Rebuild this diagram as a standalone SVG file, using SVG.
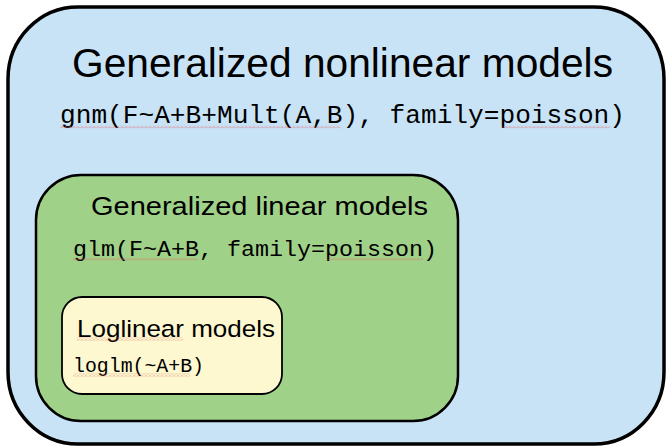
<svg xmlns="http://www.w3.org/2000/svg" width="668" height="448" viewBox="0 0 668 448">
<style>
.box{stroke:#000}
.h{font-family:"Liberation Sans",Arial,sans-serif;fill:#000}
.c{font-family:"Liberation Mono","DejaVu Sans Mono",monospace;fill:#000}
.sq{fill:url(#wave)}
</style>
<defs>
<pattern id="wave" x="0" y="0" width="4" height="3" patternUnits="userSpaceOnUse">
<path d="M0,2.5 L1,1.5 L2,0.5 L3,1.5 L4,2.5" fill="none" stroke="#e05a5a" stroke-width="0.8" stroke-opacity="0.8"/>
</pattern>
</defs>
<rect width="668" height="448" fill="#fff"/>
<g id="gnm">
<rect class="box" x="8" y="7" width="656" height="437" rx="70" ry="72" fill="#c9e3f6" stroke-width="3.5"/>
<text class="h" x="72" y="77" font-size="40" textLength="541" lengthAdjust="spacingAndGlyphs">Generalized nonlinear models</text>
<text class="c" x="60" y="123" font-size="25" textLength="565" lengthAdjust="spacingAndGlyphs">gnm(F~A+B+Mult(A,B), family=poisson)</text>
<rect class="sq" x="60" y="125.5" width="281" height="3"/>
<rect class="sq" x="502" y="125.5" width="108" height="3"/>
</g>
<g id="glm">
<rect class="box" x="36" y="175" width="422" height="246" rx="45" ry="45" fill="#a0d189" stroke-width="2.5"/>
<text class="h" x="91" y="215" font-size="26.5" textLength="337" lengthAdjust="spacingAndGlyphs">Generalized linear models</text>
<text class="c" x="73" y="256" font-size="22" textLength="364" lengthAdjust="spacingAndGlyphs">glm(F~A+B, family=poisson)</text>
<rect class="sq" x="73" y="257.5" width="125" height="3"/>
<rect class="sq" x="327" y="257.5" width="96" height="3"/>
</g>
<g id="loglm">
<rect class="box" x="62" y="297" width="220" height="97" rx="20" ry="20" fill="#fdf8cf" stroke-width="1.8"/>
<text class="h" x="77" y="337" font-size="24.5" textLength="198" lengthAdjust="spacingAndGlyphs">Loglinear models</text>
<text class="c" x="73" y="372" font-size="19.5" textLength="131" lengthAdjust="spacingAndGlyphs">loglm(~A+B)</text>
<rect class="sq" x="77" y="337.5" width="106" height="3"/>
<rect class="sq" x="73" y="373.5" width="117" height="3"/>
</g>
<g id="connectors"/>
</svg>
